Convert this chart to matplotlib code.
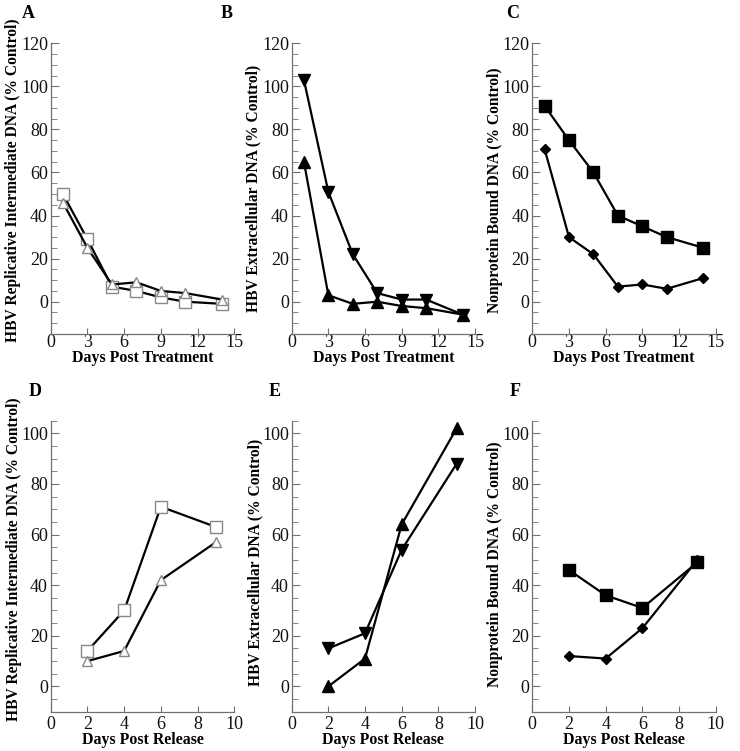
import matplotlib
matplotlib.use("Agg")
import matplotlib.pyplot as plt
from matplotlib.ticker import MultipleLocator

plt.rcParams['font.family'] = ['Liberation Serif', 'DejaVu Serif']

# ---- Data ----
days_treat = [1, 3, 5, 7, 9, 11, 14]
days_release = [2, 4, 6, 9]

A_square = [50, 29, 7, 5, 2, 0, -1]
A_triangle = [46, 25, 8, 9, 5, 4, 1]

B_down = [103, 51, 22, 4, 1, 1, -6]
B_up = [65, 3, -1, 0, -2, -3, -6]

C_square = [91, 75, 60, 40, 35, 30, 25]
C_diamond = [71, 30, 22, 7, 8, 6, 11]

D_square = [14, 30, 71, 63]
D_triangle = [10, 14, 42, 57]

E_up = [0, 11, 64, 102]
E_down = [15, 21, 54, 88]

F_square = [46, 36, 31, 49]
F_diamond = [12, 11, 23, 50]

ylabels = ["HBV Replicative Intermediate DNA (% Control)",
           "HBV Extracellular DNA (% Control)",
           "Nonprotein Bound DNA (% Control)"]
letters_top = ["A", "B", "C"]
letters_bot = ["D", "E", "F"]

fig = plt.figure(figsize=(7.4, 7.51), dpi=100)

W, H = 740, 751
def ax_at(x0, x1, ytop, ybot):
    return fig.add_axes([x0 / W, 1 - ybot / H, (x1 - x0) / W, (ybot - ytop) / H])

lefts = [(50.7, 234.3), (291.7, 475.0), (532.3, 715.7)]
top_axes = [ax_at(l, r, 43.3, 334.0) for l, r in lefts]
bot_axes = [ax_at(l, r, 420.7, 711.7) for l, r in lefts]

gray = '#707070'

def style(ax, xlim, ylim, xticks, yticks, ylabel, xlabel, ylab_xy, xlab_y, xpad):
    ax.set_xlim(*xlim)
    ax.set_ylim(*ylim)
    ax.set_xticks(xticks)
    ax.set_yticks(yticks)
    ax.yaxis.set_minor_locator(MultipleLocator(5))
    for s in ['top', 'right']:
        ax.spines[s].set_visible(False)
    for s in ['left', 'bottom']:
        ax.spines[s].set_color(gray)
        ax.spines[s].set_linewidth(0.9)
    ax.tick_params(axis='both', which='both', direction='in', color=gray,
                   labelsize=13, labelcolor='#111111')
    ax.tick_params(axis='y', which='major', length=6, pad=2)
    ax.tick_params(axis='y', which='minor', length=4)
    ax.tick_params(axis='x', which='major', length=4, pad=xpad)
    ax.set_ylabel(ylabel, fontsize=11.2, fontweight='bold', va='center')
    ax.yaxis.set_label_coords(*ylab_xy)
    ax.set_xlabel(xlabel, fontsize=11.4, fontweight='bold', va='center')
    ax.xaxis.set_label_coords(0.5, xlab_y)

lw = 1.6
# A
ax = top_axes[0]
ax.plot(days_treat, A_square, color='black', lw=lw, marker='s', ms=8,
        mfc='white', mec='#888888', mew=1.0)
ax.plot(days_treat, A_triangle, color='black', lw=lw, marker='^', ms=7,
        mfc='white', mec='#888888', mew=1.0)
# B
ax = top_axes[1]
ax.plot(days_treat, B_down, color='black', lw=lw, marker='v', ms=8, mfc='black', mec='black')
ax.plot(days_treat, B_up, color='black', lw=lw, marker='^', ms=8, mfc='black', mec='black')
# C
ax = top_axes[2]
ax.plot(days_treat, C_square, color='black', lw=lw, marker='s', ms=8, mfc='black', mec='black')
ax.plot(days_treat, C_diamond, color='black', lw=lw, marker='D', ms=5, mfc='black', mec='black')

top_ylab = [(-0.205, 0.53), (-0.209, 0.50), (-0.203, 0.495)]
for ax, yl, xy in zip(top_axes, ylabels, top_ylab):
    style(ax, (0, 15), (-15, 120), [0, 3, 6, 9, 12, 15], [0, 20, 40, 60, 80, 100, 120],
          yl, "Days Post Treatment", xy, -0.082, 0.0)

# D
ax = bot_axes[0]
ax.plot(days_release, D_square, color='black', lw=lw, marker='s', ms=8,
        mfc='white', mec='#888888', mew=1.0)
ax.plot(days_release, D_triangle, color='black', lw=lw, marker='^', ms=7,
        mfc='white', mec='#888888', mew=1.0)
# E
ax = bot_axes[1]
ax.plot(days_release, E_up, color='black', lw=lw, marker='^', ms=8, mfc='black', mec='black')
ax.plot(days_release, E_down, color='black', lw=lw, marker='v', ms=8, mfc='black', mec='black')
# F
ax = bot_axes[2]
ax.plot(days_release, F_square, color='black', lw=lw, marker='s', ms=8, mfc='black', mec='black')
ax.plot(days_release, F_diamond, color='black', lw=lw, marker='D', ms=5, mfc='black', mec='black')

bot_ylab = [(-0.2, 0.525), (-0.2, 0.513), (-0.204, 0.506)]
for ax, yl, xy in zip(bot_axes, ylabels, bot_ylab):
    style(ax, (0, 10), (-10, 105), [0, 2, 4, 6, 8, 10], [0, 20, 40, 60, 80, 100],
          yl, "Days Post Release", xy, -0.097, 3.0)

# Panel letters
for (x, y), t in zip([(28, 13), (227, 13), (513, 13), (35, 392), (275, 392), (515, 392)],
                     letters_top + letters_bot):
    fig.text(x / W, 1 - y / H, t, fontsize=13, fontweight='bold', ha='center', va='center')

fig.savefig("out.png", dpi=100)
